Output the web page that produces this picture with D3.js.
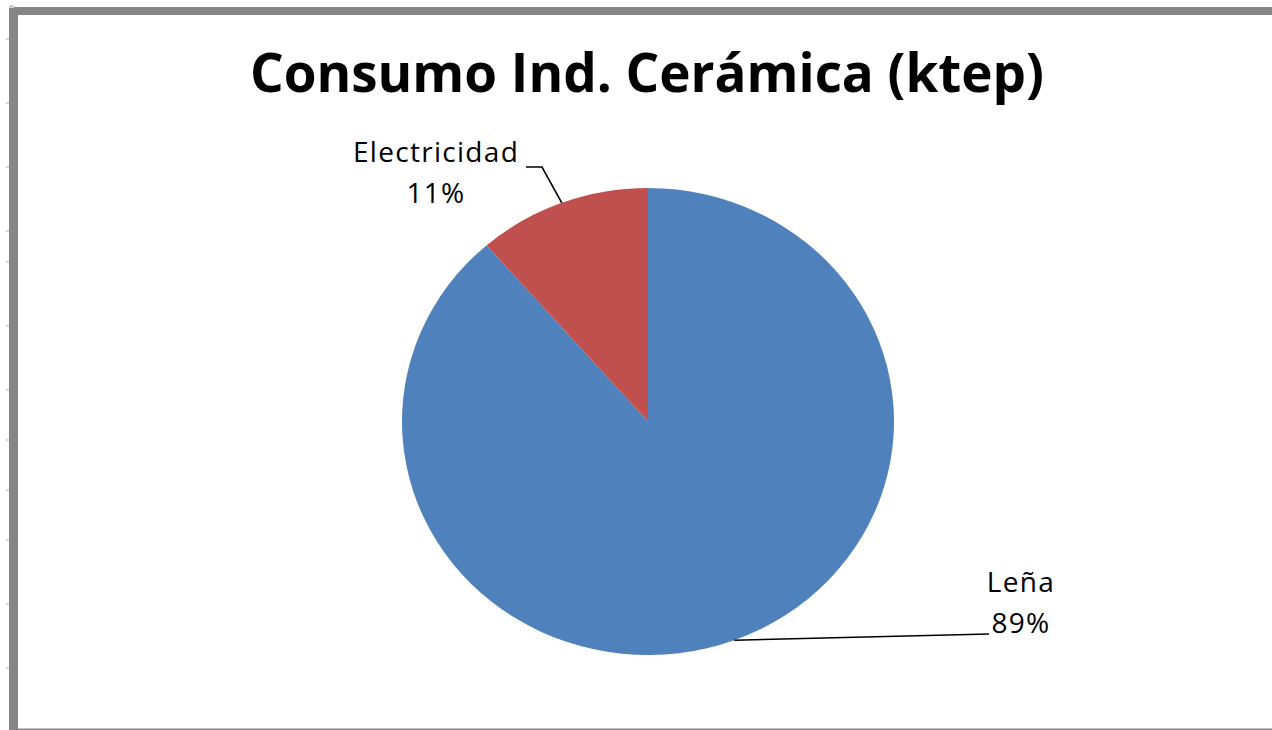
<!DOCTYPE html>
<html>
<head>
<meta charset="utf-8">
<script src="https://cdn.jsdelivr.net/npm/d3@7"></script>
<style>
  html, body { margin: 0; padding: 0; background: #fff; }
  svg { display: block; }
  .title { font-family: "Open Sans", "DejaVu Sans", sans-serif; font-weight: bold; fill: #000; }
  .lbl { font-family: "Open Sans", "DejaVu Sans", sans-serif; fill: #000; letter-spacing: 1.3px; }
</style>
</head>
<body>
<svg id="chart"></svg>
<script>
// data
const categories = ['Leña', 'Electricidad'];
const values = [88.6, 11.4];          // ktep share (labels show rounded %)
const colors = ['#4f81bd', '#c0504d'];
const titleText = 'Consumo Ind. Cerámica (ktep)';
const sideTicks = [39, 103, 167, 231, 262, 326, 390, 440, 490, 540, 604, 668];

const W = 1272, H = 730;
const cx = 648, cy = 421.5, rx = 246, ry = 233.5;

const svg = d3.select('#chart').attr('width', W).attr('height', H);

// frame of the chart area (cropped screenshot look)
svg.append('rect').attr('x', 9).attr('y', 7).attr('width', W - 9).attr('height', 8).attr('fill', '#868686');
svg.append('rect').attr('x', 9).attr('y', 7).attr('width', 9).attr('height', H - 7).attr('fill', '#868686');
svg.append('rect').attr('x', 18).attr('y', 728.5).attr('width', W - 18).attr('height', 1.5).attr('fill', '#8a8a8a');
svg.append('rect').attr('x', 9).attr('y', 5).attr('width', 5).attr('height', 3).attr('fill', '#d0d0d0');

svg.selectAll('.stick')
  .data(sideTicks)
  .enter().append('rect')
    .attr('class', 'stick')
    .attr('x', 6).attr('y', d => d - 1)
    .attr('width', 3).attr('height', 2)
    .attr('fill', '#cdd5e6');

// title
svg.append('text')
  .attr('class', 'title')
  .attr('x', 647).attr('y', 92)
  .attr('text-anchor', 'middle')
  .attr('font-size', 54)
  .attr('textLength', 794)
  .attr('lengthAdjust', 'spacingAndGlyphs')
  .text(titleText);

// pie, Excel style: first slice starts at 12 o'clock going clockwise
const total = d3.sum(values);
const pie = d3.pie().sort(null).value(d => d);
const arcs = pie(values);
const arc = d3.arc().innerRadius(0).outerRadius(rx);

const g = svg.append('g')
  .attr('transform', 'translate(' + cx + ',' + cy + ') scale(1,' + (ry / rx) + ')');

g.selectAll('path')
  .data(arcs)
  .enter().append('path')
    .attr('d', arc)
    .attr('fill', (d, i) => colors[i]);

// point on the ellipse edge at the slice mid angle
function edgePoint(d) {
  const a = (d.startAngle + d.endAngle) / 2;
  return [cx + rx * Math.sin(a), cy - ry * Math.cos(a)];
}

// label layout: text centre and leader elbow for each slice
const labelPos = [
  { x: 1021, y: 592, lead: [[989, 634]] },
  { x: 436, y: 162, lead: [[542, 167], [526, 167]] }
];

const fmt = d3.format('.0%');
arcs.forEach((d, i) => {
  const p = edgePoint(d);
  const pts = [p].concat(labelPos[i].lead);
  svg.append('path')
    .attr('d', d3.line()(pts))
    .attr('fill', 'none')
    .attr('stroke', '#000')
    .attr('stroke-width', 1.6);

  const t = svg.append('text')
    .attr('class', 'lbl')
    .attr('text-anchor', 'middle')
    .attr('font-size', 28);
  t.append('tspan').attr('x', labelPos[i].x).attr('y', labelPos[i].y).text(categories[i]);
  t.append('tspan').attr('x', labelPos[i].x).attr('y', labelPos[i].y + 41).text(fmt(values[i] / total));
});
</script>
</body>
</html>
